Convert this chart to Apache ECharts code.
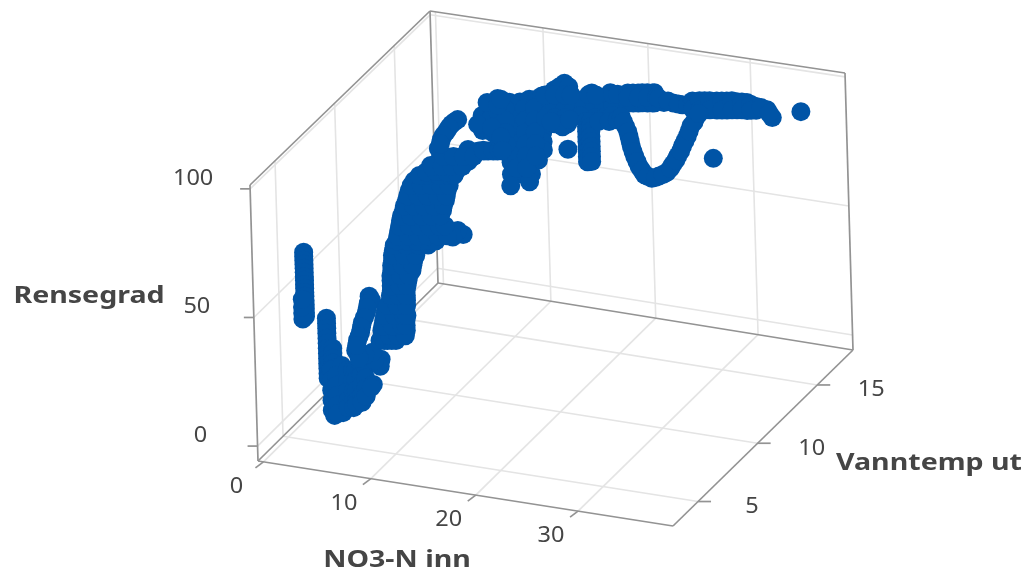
<!DOCTYPE html>
<html><head><meta charset="utf-8">
<style>html,body{margin:0;padding:0;background:#fff}#c{width:1027px;height:574px;filter:blur(0.5px)}</style>
<script src="https://cdn.jsdelivr.net/npm/echarts@6/dist/echarts.min.js"></script></head>
<body><div id="c"></div>
<script>
// tick labels
const no3Ticks=[0,10,20,30], tempTicks=[5,10,15], rensTicks=[0,50,100];
// values: [NO3-N inn, Rensegrad], grouped by Vanntemp ut
const temp5=[[1.9,67.4],[1.9,65.9],[1.9,64.3],[1.9,62.8],[1.9,61.2],[1.9,59.6],[1.9,58],[1.9,56.5],[1.9,54.9],[1.9,53.4],[1.9,51.8],[1.9,50.3],[1.9,48.7],[1.9,47.2],[1.9,45.6],[1.9,44],[1.9,42.5],
[1.65,41.3],[1.65,43.6],[1.65,46],[1.65,49]];
const temp6=[[2.7,37.7],[2.7,35.8],[2.7,33.8],[2.7,31.9],[2.7,29.9],[2.7,28],[2.7,26],[2.7,24],[2.7,22],[2.7,20.1],[2.7,18.2],[2.7,16.2],[2.7,14.3],[3.2,26.4],[3.2,24.5],[3.2,22.5],[3.2,20.6],[3.2,18.6],
[3,17.7],[3,13.8],[3,9.9],[3,6],[3,2.1],[3.2,0.2],[4,20.2],[4,16.3],[4,12.4],[4,8.5],[4,4.6],[4,1.8],
[3.5,16],[3.5,12.1],[3.5,8.2],[3.5,4.3],[3.5,1.1],[4.5,18.6],[4.5,14.6],[4.5,10.7],[4.5,6.8],[4.5,4.1],
[5,18.9],[5,15],[5,11],[5,7.1],[5,4.4],[5.3,19.2],[5.3,15.3],[5.3,11.4],[5.3,7.4],[5.3,5.9],
[5.8,21.4],[5.8,17.5],[5.8,13.6],[5.8,9.7],[5.8,7],[6.2,21],[6.2,16.7],[6.2,12.8],[6.2,9.6],[6.9,14.7],[6.7,13.4],
[7.7,25],[7.6,22.2],[7.1,24.3],[6.9,27.2],[6.2,25.6]];
const temp7=[[5.6,43.6],[5.8,42.2],[5.5,40.8],[5.3,37.1],[4.9,33],[4.7,29],[4.4,25.7],[4.2,21.6],[4.5,18.7],[5.4,39],[5.1,35],[4.8,31],[4.55,27.3],[4.3,23.6],
[6.5,27],[7.2,27.4],[8,27.9],[6.9,27.2],[7.6,27.7],[6.7,31],[7.6,31.6],[8.5,32.2],[9,32.5],[6.9,35],[7.8,35.6],[8.7,36.2],[9,36.4],
[7.1,39.1],[8.1,39.7],[9,40.3],[7.6,43.3],[8.4,43.8],[9.1,44.3],[7.7,47.2],[8.5,47.8],[9.1,48.2],
[7.7,51.1],[8.5,51.7],[9.3,52.2],[7.8,55.1],[8.7,55.7],[9.7,56.3],[7.9,59.1],[8.8,59.7],[9.9,60.4],[8,63],[9,63.7],[10.2,64.5],
[6.7,29],[7.4,29.5],[8.2,30],[8.9,30.4],[6.8,32.9],[7.7,33.5],[8.6,34.2],[9,34.4],[7,37],[7.9,37.6],[8.8,38.2],[9.1,38.4],
[7.3,41.1],[8.2,41.7],[9.1,42.3],[7.6,45.2],[8.4,45.7],[9.1,46.2],[7.7,49.1],[8.5,49.7],[9.2,50.1],[7.7,53],[8.6,53.6],[9.4,54.2],
[7.8,57],[8.8,57.7],[9.8,58.4],[7.9,61],[9,61.7],[10.1,62.4],[8.1,65.1],[9.2,65.8],[10.4,66.6],[11.3,67.2]];
const temp8=[[7.2,61.7],[8.2,62.3],[9.1,62.9],[10,63.6],[10.9,64.1],[13.5,68.2],[12.8,68.2],[12.3,68.2],[11.3,67.6],[13,69.4],[12.5,66.6],
[7.4,65.7],[8.4,66.4],[9.3,67],[10.2,67.6],[11.2,68.2],[7.6,69.8],[8.5,70.4],[9.5,71],[10.4,71.6],[11.3,72.2],
[7.9,73.8],[8.8,74.5],[9.8,75.1],[10.7,75.7],[11.6,76.3],[8.2,77.9],[9.1,78.5],[10,79.2],[11,79.8],[11.9,80.4],
[8.5,82.1],[9.5,82.7],[10.4,83.3],[11.3,83.9],[12.1,84.4],[9,86.3],[9.9,86.9],[10.9,87.5],[11.8,88.1],[12.3,88.4],
[7.3,63.7],[8.3,64.3],[9.2,64.9],[10.1,65.5],[11.1,66.1],[12,66.7],[7.5,67.7],[8.4,68.3],[9.4,68.9],[10.3,69.5],[11.25,70.1],[11.8,70.5],
[7.7,71.7],[8.6,72.3],[9.6,72.9],[10.5,73.6],[11.4,74.2],[8,75.8],[8.9,76.4],[9.85,77],[10.8,77.6],[11.7,78.3],
[8.35,80],[9.3,80.6],[10.2,81.2],[11.16,81.8],[12,82.3],[8.7,84.2],[9.65,84.8],[10.6,85.4],[11.5,86],[12.3,86.5],
[9.5,88.6],[10.4,89.2],[11.3,89.8],[12.3,90.4],[12.8,90.8],[10.6,93.2],[11.5,93.8],[12.4,94.4],[13.4,95],[11.6,97.8]];
const temp11=[[6.7,74.8],[7.6,75.4],[8.6,76],[9.5,76.6],[7.9,79.6],[8.9,80.2],[9.8,80.8],[10.7,81.4],[8.9,81.8],[9.8,82.4],
[10.7,86],[11.7,86],[12.6,86.6],[13.5,87.2],[9.8,97.1],[9.2,94.9],[8.7,91.8],[8.2,88.3],[7.9,84.6],
[7.27,77.2],[8.2,77.8],[9.14,78.4],[10.1,79],[8.4,81.8],[9.3,82.4],[10.25,83],[11.2,83.6],[12.2,86.3],[13.1,86.9],[14,87.5],
[9.5,96.1],[8.95,93.5],[8.4,90],[8.1,86.6]];
const temp15=[[7.5,79.2],[7.5,76.1],[8.4,82.9],[8.4,79],[9,86.8],[9,81.4],[9,75.9],[7.5,65.5],[8.4,66.1],[9,66.5],
[7.5,73.3],[8.4,73.2],[9,71.2],[7.05,75.4],
[10.1,86],[10.1,81.3],[10.1,76.6],[10.1,72],[10.1,67.2],[10.1,62.5],[10.1,57.8],
[11.1,86.7],[11.1,82],[11.1,77.3],[11.1,72.6],[11.1,67.9],[11.1,63.2],[11.1,58.5],
[12,88.4],[12,82.6],[12,77.9],[12,73.2],[12,68.5],[12,63.8],[12,59.1],
[12.7,88.8],[12.7,83],[12.7,78.3],[12.7,73.6],[12.7,68.9],[12.7,65],
[13.2,90.4],[13.2,85.7],[13.2,81],[13.2,76.3],[13.2,72.5],[13.2,69.3],[10,53.2],[11.8,55.9],
[10.6,84],[10.6,79.3],[10.6,74.6],[10.6,70],[10.6,65.3],[10.6,60.6],[11.55,84.6],[11.55,79.9],[11.55,75.2],[11.55,70.6],[11.55,65.9],[11.55,61.2],
[9.66,83.3],[9.66,78.6],[9.66,73.9],[9.66,69.3],[12.47,85.2],[12.47,80.5],[12.47,75.8],[12.47,71.2],[12.47,66.5],
[8,84.6],[8.35,75.1],[9.2,71.8],[9.3,66.7],[9,84.1],[9.3,86.7],
[15.4,96.7],[14.4,93.5],[14.9,95],[15.8,95.6],[14,91.7],[16.5,90.7],[18,94.5],[17.2,91.4],[19,92.5],[19.8,95.7],
[14,88.6],[14.9,89.2],[15.8,89.8],[16.8,90.4],[17.7,91],[18.6,91.6],[19.6,92.2],[20.5,92.8],
[14,84.7],[14.9,85.3],[15.8,85.9],[16.8,86.5],[17.7,87.1],[18.6,87.7],[19.6,88.3],
[14.4,86.9],[15.4,87.5],[16.3,88.1],[17.2,88.7],[18.2,89.3],[19.1,89.9],[20,90.5],
[13.5,91],[14.4,91.6],[15.4,92.2],[16,92.6],[17.7,93.7],[18.4,94],[20,95.2],[20.5,95.5],
[13.5,82],[14.4,82.6],[15.4,83.2],[14.4,80.3],[15.6,81],[16.8,84.9],[18.3,85.1],[19.2,85.7],[19.9,86.9],
[15.1,79.5],[14,80.8],[15.8,82.8],[15.55,71],
[17.4,83],[17.4,81],[17.4,79.1],[17.4,77.1],[17.4,75.2],[17.4,73.2],[17.4,71.3],[17.4,69.3],[17.4,67.3],
[17.8,83.3],[17.8,81.3],[17.8,79.4],[17.8,77.4],[17.8,75.5],[17.8,73.5],[17.8,71.6],[17.8,69.6],[17.8,67.6],
[18.6,83.8],[19.6,84.4],[20.4,85.5]];
const temp16=[[20.3,91.4],[20.3,87.5],[21.3,92],[21.3,88.1],[22.2,92.6],[22.2,88.7],[22.9,93.1],[22.9,89.2],[23.8,89.8],[24.7,90.2],[25.6,90],
[20.8,91.7],[20.8,87.8],[21.7,92.3],[21.7,88.4],[22.7,92.9],[22.7,89],[20.3,89.6],[21.3,90.2],[22.2,90.8],[23.1,91.5],[23.3,91.2],[24.2,90.6],[25.2,90.1],[26.1,90.3],
[26.6,92.1],[26.6,89],[27.8,92.9],[27.8,89.4],[29,93.5],[29,90],[30,94.1],[30,90.6],[31,94.4],[31,91.3],[32,94.7],[32,91.6],[32.9,93.7],[32.9,92.2],[34,93.1],[34.5,90.3],
[27.3,92.6],[27.3,89.1],[28.3,93.2],[28.3,89.7],[29.5,93.8],[29.5,90.3],[30.5,94.5],[30.5,91],[31.5,94.6],[31.5,91.6],[32.4,94.2],[32.4,91.9],[33.4,93.6],[34.2,91.8],
[19.6,81.7],[20,78.1],[20.3,74.4],[20.5,70.6],[20.8,66.9],[21.2,63.3],[21.7,60.4],[22.4,59.4],[23.1,60.7],[23.9,62.7],[24.5,66.2],[25,69.7],[25.5,73.9],[26,78.1],[26.4,82.3],[26.9,85.7],
[19.8,79.9],[20.2,76.2],[20.4,72.5],[20.65,68.7],[21,65.1],[21.45,61.9],[22,60],[22.75,59.9],[23.5,61.6],[24.25,64.5],[24.8,68],[25.3,71.8],[25.75,76],[26.2,80.2],[26.7,84],[27.2,87.6],
[28.5,70.9],[37.4,94.3]];
const groups=[[5,temp5],[6,temp6],[7,temp7],[8,temp8],[11,temp11],[15,temp15],[16,temp16]];

// axis extents
const no3Range=[-0.5,39.5], tempRange=[2.9,18], rensRange=[-5.8,101.5];
// picture-space corners of the axis box: [no3 end, temp end, rens end]
const corner={ '000':[258,461],'100':[673,526],'010':[438,283],'110':[853,350],
               '001':[250,185],'101':[665,248],'011':[430,11],'111':[845,73] };
const warp=0.05;
function project(x,T,z){
  let t=(x-no3Range[0])/(no3Range[1]-no3Range[0]); t=t*(1+warp)/(1+warp*t);
  const v=(T-tempRange[0])/(tempRange[1]-tempRange[0]), w=(z-rensRange[0])/(rensRange[1]-rensRange[0]);
  const out=[0,0];
  for(const a of [0,1])for(const b of [0,1])for(const c of [0,1]){
    const k=(a?t:1-t)*(b?v:1-v)*(c?w:1-w), p=corner[''+a+b+c];
    out[0]+=k*p[0]; out[1]+=k*p[1];
  }
  return out;
}
const X0=no3Range[0],X1=no3Range[1],Y0=tempRange[0],Y1=tempRange[1],Z0=rensRange[0],Z1=rensRange[1];
const seg=(a,b)=>[...project(...a),...project(...b)];
const gridSegs=[];
no3Ticks.forEach(x=>{gridSegs.push(seg([x,Y0,Z0],[x,Y1,Z0]),seg([x,Y1,Z0],[x,Y1,Z1]));});
tempTicks.forEach(y=>{gridSegs.push(seg([X0,y,Z0],[X1,y,Z0]),seg([X0,y,Z0],[X0,y,Z1]));});
rensTicks.forEach(z=>{gridSegs.push(seg([X0,Y0,z],[X0,Y1,z]),seg([X0,Y1,z],[X1,Y1,z]));});
const edgeSegs=[
 seg([X0,Y0,Z0],[X1,Y0,Z0]),seg([X1,Y0,Z0],[X1,Y1,Z0]),seg([X1,Y1,Z0],[X0,Y1,Z0]),seg([X0,Y1,Z0],[X0,Y0,Z0]),
 seg([X0,Y0,Z0],[X0,Y0,Z1]),seg([X0,Y1,Z0],[X0,Y1,Z1]),seg([X1,Y1,Z0],[X1,Y1,Z1]),
 seg([X0,Y0,Z1],[X0,Y1,Z1]),seg([X0,Y1,Z1],[X1,Y1,Z1])];
const tickSegs=[], labels=[];
no3Ticks.forEach(x=>{const p=project(x,Y0,Z0);tickSegs.push([p[0],p[1],p[0]-8,p[1]+6]);labels.push([p[0]-27,p[1]+25,String(x)]);});
tempTicks.forEach(y=>{const p=project(X1,y,Z0);tickSegs.push([p[0],p[1],p[0]+13,p[1]]);labels.push([p[0]+54,p[1]+5.5,String(y)]);});
rensTicks.forEach(z=>{const p=project(X0,Y0,z);tickSegs.push([p[0],p[1],p[0]-10,p[1]]);labels.push([p[0]-57,p[1]-10,String(z)]);});
const names=[[89,296,'Rensegrad'],[397,560,'NO3-N inn'],[929,463,'Vanntemp ut']];
const points=[];
groups.forEach(([T,list])=>list.forEach(([x,z])=>points.push(project(x,T,z))));

const segSeries=(data,color,width,z)=>({type:'custom',coordinateSystem:'cartesian2d',silent:true,z,clip:false,
  encode:{x:[0,2],y:[1,3]},data,
  renderItem(p,api){const a=api.coord([api.value(0),api.value(1)]),b=api.coord([api.value(2),api.value(3)]);
    return {type:'line',shape:{x1:a[0],y1:a[1],x2:b[0],y2:b[1]},style:{stroke:color,lineWidth:width,fill:null}};}});
const textSeries=(data,font,stretch,z)=>({type:'custom',coordinateSystem:'cartesian2d',silent:true,z,clip:false,
  encode:{x:0,y:1},data,
  renderItem(p,api){const a=api.coord([api.value(0),api.value(1)]);
    return {type:'text',x:a[0],y:a[1],scaleX:stretch,style:{text:String(data[p.dataIndex][2]),font,fill:'#454545',align:'center',verticalAlign:'middle'}};}});
const chart=echarts.init(document.getElementById('c'),null,{renderer:'canvas'});
chart.setOption({animation:false,backgroundColor:'#fff',
 grid:{left:0,right:0,top:0,bottom:0},
 xAxis:{type:'value',min:0,max:1027,show:false},
 yAxis:{type:'value',min:0,max:574,inverse:true,show:false},
 series:[
  segSeries(gridSegs,'#e4e4e4',1.6,1),
  segSeries(edgeSegs,'#939393',1.7,2),
  segSeries(tickSegs,'#939393',1.7,2),
  {type:'scatter',data:points,symbol:'circle',symbolSize:19,itemStyle:{color:'#0054a6',opacity:1},z:5,silent:true},
  textSeries(labels,'21px "Noto Sans"',1.12,6),
  textSeries(names,'bold 24px "Noto Sans"',1.19,6)
 ]});
</script></body></html>
